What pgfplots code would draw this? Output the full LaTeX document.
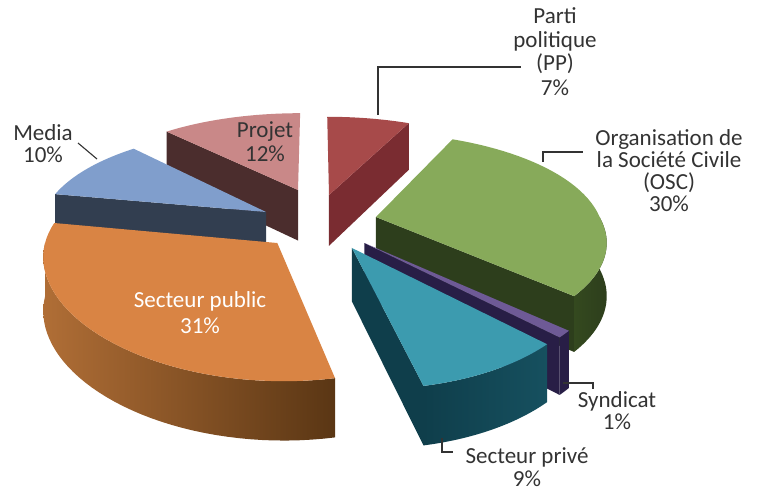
\documentclass[border=0pt]{standalone}
\usepackage{fontspec}
\setmainfont{Carlito}
\usepackage{pgfplots}
\pgfplotsset{compat=1.18}

% top / side colours
\definecolor{ppT}{HTML}{A74A4A}\definecolor{ppS}{HTML}{7A2C31}
\definecolor{prT}{HTML}{C98888}\definecolor{prS}{HTML}{4B2D2D}
\definecolor{meT}{HTML}{809ECC}\definecolor{meS}{HTML}{323E50}
\definecolor{osT}{HTML}{87AA5A}\definecolor{osS}{HTML}{2D3E1C}\definecolor{osS2}{HTML}{34491F}
\definecolor{syT}{HTML}{6E5A96}\definecolor{syS}{HTML}{281E46}
\definecolor{tpT}{HTML}{3C9BAF}\definecolor{tpS}{HTML}{0F3E4B}\definecolor{tpS2}{HTML}{16505F}
\definecolor{puT}{HTML}{D98444}\definecolor{puL}{HTML}{B06E36}\definecolor{puR}{HTML}{5A3614}
\definecolor{txt}{HTML}{333333}
\tikzset{lbl/.style={anchor=base, inner sep=0pt, text=txt, font=\fontsize{23}{24}\selectfont}}

% data: shares in percent
\def\pPP{7}   % Parti politique
\def\pOSC{30} % Organisation de la Societe Civile
\def\pSYN{1}  % Syndicat
\def\pPRI{9}  % Secteur prive
\def\pPUB{31} % Secteur public
\def\pMED{10} % Media
\def\pPRO{12} % Projet

\pgfmathsetmacro\aA{90}
\pgfmathsetmacro\aB{\aA-3.6*\pPP}
\pgfmathsetmacro\aC{\aB-3.6*\pOSC}
\pgfmathsetmacro\aD{\aC-3.6*\pSYN}
\pgfmathsetmacro\aE{\aD-3.6*\pPRI}
\pgfmathsetmacro\aF{\aE-3.6*\pPUB}
\pgfmathsetmacro\aG{\aF-3.6*\pMED}
\pgfmathsetmacro\aH{\aG-3.6*\pPRO}

\newcommand{\topface}[5]{\addplot[fill=#1,draw=none,samples at={0,...,41}]
 ({SX(TU(x,#2,#3,#4),TV(x,#2,#3,#5))},{SY(TU(x,#2,#3,#4),TV(x,#2,#3,#5))});}
\newcommand{\sideface}[5]{\addplot[#1,draw=none,samples at={0,...,81}]
 ({SX(SU(x,#2,#3,#4),SV(x,#2,#3,#5))},{SY(SU(x,#2,#3,#4),SV(x,#2,#3,#5))+(x>40.5)*HH(SV(x,#2,#3,#5))});}
\newcommand{\cutface}[4]{\addplot[fill=#1,draw=none,samples at={0,1,2,3}]
 ({SX(CU(x,#2,#3),CV(x,#2,#4))},{SY(CU(x,#2,#3),CV(x,#2,#4))+(x>1.5)*HH(CV(x,#2,#4))});}

\begin{document}
\begin{tikzpicture}
\begin{axis}[scale only axis, width=766pt, height=491pt,
  xmin=0, xmax=766, ymin=0, ymax=491, y dir=reverse,
  hide axis, clip=false,
  declare function={
    KX(\v)=1/(1+0.15*\v);
    KY(\v)=1/(1+0.19*\v);
    SX(\u,\v)=315+224*\u*KX(\v)-14*\v*(\v<0);
    SY(\u,\v)=218-101*\v*KY(\v);
    HH(\v)=52/(1+0.1*\v);
    TU(\ta,\tb,\tc,\td)=\td+(\ta<40.5)*cos(\tb+(\tc-\tb)*\ta/40);
    TV(\ta,\tb,\tc,\td)=\td+(\ta<40.5)*sin(\tb+(\tc-\tb)*\ta/40);
    SU(\ta,\tb,\tc,\td)=\td+cos(\tb+(\tc-\tb)*((\ta<40.5)*\ta+(\ta>40.5)*(81-\ta))/40);
    SV(\ta,\tb,\tc,\td)=\td+sin(\tb+(\tc-\tb)*((\ta<40.5)*\ta+(\ta>40.5)*(81-\ta))/40);
    CU(\ta,\tb,\tc)=\tc+(\ta>0.5)*(\ta<2.5)*cos(\tb);
    CV(\ta,\tb,\tc)=\tc+(\ta>0.5)*(\ta<2.5)*sin(\tb);
  },
]
% Projet
\cutface{prS}{\aG}{-0.0792}{0.2926}
\topface{prT}{\aG}{\aH}{-0.0792}{0.2926}
% Parti politique
\cutface{ppS}{\aB}{0.0647}{0.238}
\topface{ppT}{\aA}{\aB}{0.0647}{0.238}
% Media
\cutface{meS}{\aF}{-0.2207}{0.0601}
\topface{meT}{\aF}{\aG}{-0.2207}{0.0601}
% OSC
\cutface{osS}{\aC}{0.2727}{0.0099}
\sideface{left color=osS2,right color=osS}{0}{\aC}{0.2727}{0.0099}
\topface{osT}{\aB}{\aC}{0.2727}{0.0099}
% Syndicat
\cutface{syS}{\aD}{0.198}{-0.2364}
\sideface{fill=syS}{\aC}{\aD}{0.198}{-0.2364}
\topface{syT}{\aC}{\aD}{0.198}{-0.2364}
% Secteur prive
\cutface{tpS}{\aE}{0.1411}{-0.2811}
\sideface{left color=tpS,right color=tpS2}{\aD}{\aE}{0.1411}{-0.2811}
\topface{tpT}{\aD}{\aE}{0.1411}{-0.2811}
% Secteur public
\sideface{left color=puL,right color=puR}{-180}{\aE}{-0.1765}{-0.2364}
\topface{puT}{\aE}{\aF}{-0.1765}{-0.2364}

% leader lines
\addplot[txt, line width=1.1pt] coordinates {(378,115) (378,67) (521,67)};
\addplot[txt, line width=1.1pt] coordinates {(543,162) (543,152) (583,152)};
\addplot[txt, line width=1.1pt] coordinates {(563,383) (593,383) (593,389)};
\addplot[txt, line width=1.1pt] coordinates {(442,438) (442,452) (453,452)};
\addplot[txt, line width=1.1pt] coordinates {(78,143) (97,159)};

% labels
\node[lbl] at (axis cs:555,23) {Parti};
\node[lbl] at (axis cs:555,47) {politique};
\node[lbl] at (axis cs:555,70) {(PP)};
\node[lbl] at (axis cs:555,95) {7\%};
\node[lbl] at (axis cs:669,145) {Organisation de};
\node[lbl] at (axis cs:669,167) {la Société Civile};
\node[lbl] at (axis cs:669,189) {(OSC)};
\node[lbl] at (axis cs:669,211) {30\%};
\node[lbl] at (axis cs:617,407) {Syndicat};
\node[lbl] at (axis cs:617,429) {1\%};
\node[lbl] at (axis cs:527,463) {Secteur privé};
\node[lbl] at (axis cs:527,486) {9\%};
\node[lbl,text=white] at (axis cs:200,307) {Secteur public};
\node[lbl,text=white] at (axis cs:200,333) {31\%};
\node[lbl] at (axis cs:265,137) {Projet};
\node[lbl] at (axis cs:265,161) {12\%};
\node[lbl] at (axis cs:43,140) {Media};
\node[lbl] at (axis cs:43,162) {10\%};
\end{axis}
\pgfresetboundingbox
\useasboundingbox (0,0) rectangle (766pt,491pt);
\end{tikzpicture}
\end{document}
